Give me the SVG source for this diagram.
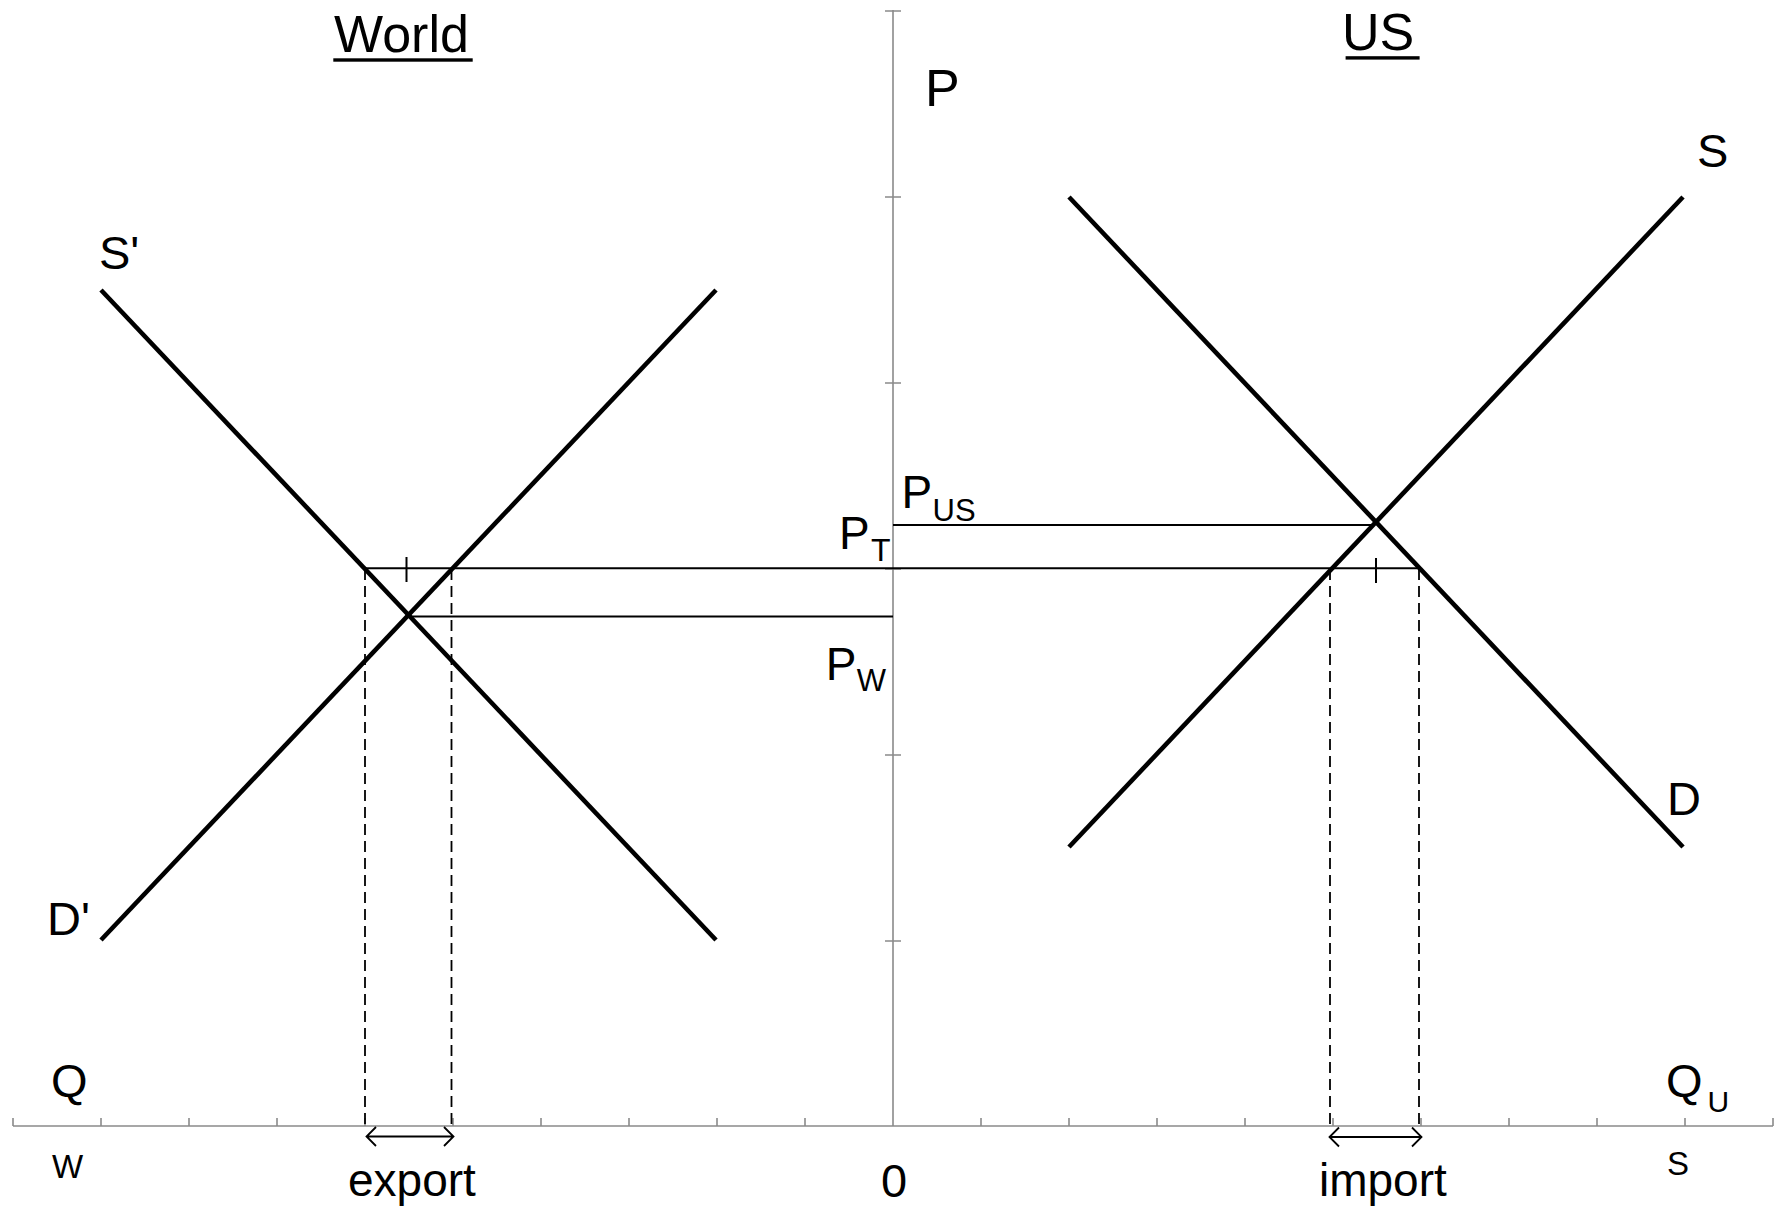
<svg xmlns="http://www.w3.org/2000/svg" width="1781" height="1210" viewBox="0 0 1781 1210">
<style>
.ax{stroke:#8a8a8a;stroke-width:1.6;fill:none}
.cv{stroke:#000;stroke-width:4.6;fill:none}
.hl{stroke:#000;stroke-width:2;fill:none}
.ds{stroke:#000;stroke-width:1.8;fill:none;stroke-dasharray:11 6}
.ar{stroke:#000;stroke-width:1.8;fill:none}
text{font-family:"Liberation Sans",Arial,sans-serif;fill:#000}
.big{font-size:52px}
.lb{font-size:47px}
.sb{font-size:31px}
</style>
<rect width="1781" height="1210" fill="#fff"/>
<g id="axes">
<line class="ax" x1="893" y1="10" x2="893" y2="1126"/>
<line class="ax" x1="13" y1="1126" x2="1773" y2="1126"/>
<path class="ax" d="M885 11H901M885 197H901M885 383H901M885 569H901M885 755H901M885 941H901"/>
<path class="ax" d="M13 1126V1118M101 1126V1118M189 1126V1118M277 1126V1118M365 1126V1118M453 1126V1118M541 1126V1118M629 1126V1118M717 1126V1118M805 1126V1118M981 1126V1118M1069 1126V1118M1157 1126V1118M1245 1126V1118M1333 1126V1118M1421 1126V1118M1509 1126V1118M1597 1126V1118M1685 1126V1118M1773 1126V1118"/>
</g>
<g id="world-curves">
<line id="world-S" class="cv" x1="101" y1="290" x2="716" y2="940"/>
<line id="world-D" class="cv" x1="716" y1="290" x2="101" y2="940"/>
</g>
<g id="us-curves">
<line id="us-D" class="cv" x1="1069" y1="197" x2="1683" y2="847"/>
<line id="us-S" class="cv" x1="1683" y1="197" x2="1069" y2="847"/>
</g>
<g id="connectors">
<line class="hl" x1="893" y1="525" x2="1374" y2="525"/>
<line class="hl" x1="365" y1="568.3" x2="1420" y2="568.3"/>
<line class="hl" x1="408" y1="616.5" x2="893" y2="616.5"/>
<line class="hl" x1="406.5" y1="557" x2="406.5" y2="582"/>
<line class="hl" x1="1376" y1="558" x2="1376" y2="583"/>
<line class="ds" x1="365" y1="569" x2="365" y2="1126"/>
<line class="ds" x1="451.5" y1="569" x2="451.5" y2="1126"/>
<line class="ds" x1="1330" y1="569" x2="1330" y2="1126"/>
<line class="ds" x1="1419" y1="569" x2="1419" y2="1126"/>
<path class="ar" d="M367 1136.5H453M376 1127L366.5 1136.5L376 1146M444 1127L453.5 1136.5L444 1146"/>
<path class="ar" d="M1330 1137H1421M1339 1127.5L1329.5 1137L1339 1146.5M1412 1127.5L1421.5 1137L1412 1146.5"/>
</g>
<g id="labels">
<text class="big" x="334" y="51.7">World</text>
<rect x="333.3" y="58.3" width="139.4" height="3.4"/>
<text class="big" x="1342" y="49.5">US</text>
<rect x="1345.6" y="56.2" width="74" height="3.4"/>
<text class="big" x="925" y="105.5">P</text>
<text class="lb" x="1697" y="167">S</text>
<text class="lb" x="99" y="268.7">S'</text>
<text class="lb" x="47" y="935">D'</text>
<text class="lb" x="1667" y="815">D</text>
<text class="lb" x="51" y="1097">Q</text>
<text class="lb" x="1666" y="1097">Q</text>
<text style="font-size:30px" x="1707.5" y="1111.5">U</text>
<text style="font-size:33px" x="52" y="1178">W</text>
<text style="font-size:33px" x="1667" y="1175">S</text>
<text class="lb" x="894" y="1197" text-anchor="middle">0</text>
<text style="font-size:46px" x="348" y="1196">export</text>
<text style="font-size:46px" x="1319" y="1196">import</text>
<text style="font-size:46px" x="901.4" y="508.3">P</text>
<text class="sb" x="932.6" y="520.7">US</text>
<text style="font-size:46px" x="839" y="549.3">P</text>
<text style="font-size:32px" x="871" y="560.7">T</text>
<text style="font-size:46px" x="825.7" y="680">P</text>
<text class="sb" x="856.7" y="690.7">W</text>
</g>
</svg>
